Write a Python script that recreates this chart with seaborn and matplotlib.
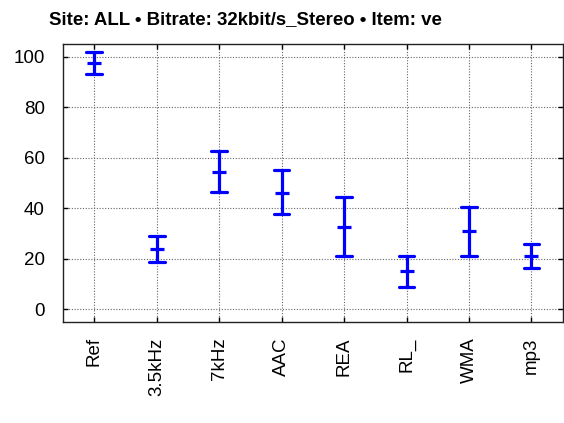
import numpy as np
import pandas as pd
import matplotlib
matplotlib.use("Agg")
import matplotlib.pyplot as plt
import seaborn as sns

codecs = ["Ref", "3.5kHz", "7kHz", "AAC", "REA", "RL_", "WMA", "mp3"]
means = [97.5, 23.7, 54.5, 46.2, 32.7, 15.0, 30.9, 21.0]
lower = [93.3, 18.6, 46.6, 37.7, 21.1, 8.8, 21.0, 16.4]
upper = [101.9, 29.0, 62.5, 55.0, 44.5, 21.2, 40.5, 26.0]
yticks = [0, 20, 40, 60, 80, 100]
title = "Site: ALL \u2022 Bitrate: 32kbit/s_Stereo \u2022 Item: ve"

rows = []
for c, lo, m, hi in zip(codecs, lower, means, upper):
    for v in (lo, m, hi):
        rows.append({"codec": c, "score": v})
df = pd.DataFrame(rows)

sns.set_style("white")
plt.rcParams["font.family"] = ["Liberation Sans", "DejaVu Sans"]
plt.rcParams["text.color"] = "black"
plt.rcParams["xtick.labelcolor"] = "black"
plt.rcParams["ytick.labelcolor"] = "black"

fig = plt.figure(figsize=(5.64, 4.23), dpi=100)
ax = fig.add_axes([63 / 564, 1 - 322 / 423, (562.7 - 63) / 564, (322 - 44) / 423])

sns.pointplot(data=df, x="codec", y="score", order=codecs,
              estimator="median", errorbar=("pi", 100),
              capsize=0.25, color="#0000ff", markers="_", linestyles="none",
              markersize=9.5, markeredgewidth=2.3,
              err_kws={"linewidth": 2.3}, ax=ax)

ax.set_xlim(-0.5, len(codecs) - 0.5)
ax.set_ylim(-5, 105)
ax.set_yticks(yticks)
ax.set_yticklabels([str(t) for t in yticks])
ax.set_xlabel("")
ax.set_ylabel("")
ax.grid(True, color="0.4", linestyle=(0, (1, 1.5)), linewidth=0.8)
ax.set_axisbelow(True)
for s in ax.spines.values():
    s.set_visible(True)
    s.set_color("#222222")
    s.set_linewidth(1.0)
ax.tick_params(axis="both", direction="in", length=3.5, width=1, color="black",
               labelcolor="black", top=True, right=True, bottom=True, left=True)
ax.tick_params(axis="y", labelsize=13.5, pad=13)
ax.tick_params(axis="x", labelsize=13.5, pad=11, labelrotation=90)
for lab in ax.get_xticklabels():
    lab.set_va("top")

fig.text(49 / 564, 1 - 20 / 423, title, ha="left", va="center",
         fontsize=13.4, fontweight="bold", color="black")

fig.savefig("out.png", dpi=100)
